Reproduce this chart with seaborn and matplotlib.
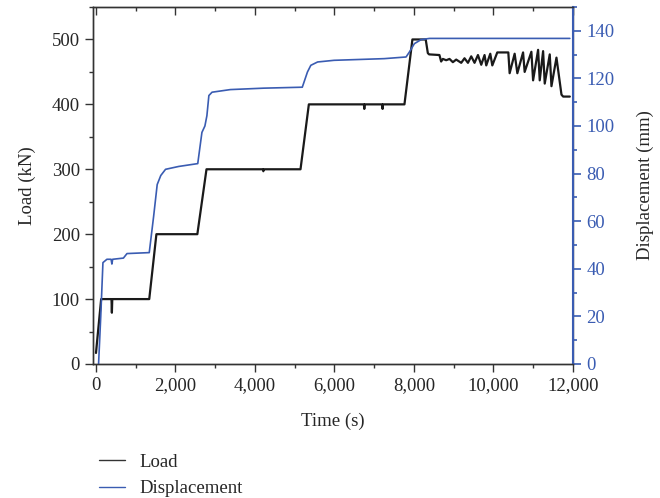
import matplotlib
matplotlib.use("Agg")
import matplotlib.pyplot as plt
import matplotlib.ticker as mticker
from matplotlib.lines import Line2D
import seaborn as sns
import pandas as pd

# ---- data ----
load_time = [0, 130, 390, 400, 410, 1340, 1520, 2550, 2780, 4200, 4210, 4220, 5145, 5355,
             6740, 6750, 6760, 7200, 7210, 7220, 7760, 7960, 8295, 8348, 8380, 8640, 8683, 8726,
             8810, 8893, 8978, 9062, 9188, 9271, 9357, 9440, 9523, 9609, 9692, 9775, 9818, 9919,
             9970, 10095, 10373, 10406, 10532, 10600, 10744, 10784, 10953, 10996, 11122, 11163,
             11248, 11289, 11415, 11458, 11584, 11710, 11752, 11920]
load_kn = [17, 100, 100, 79, 100, 100, 200, 200, 300, 300, 297, 300, 300, 400,
           400, 393, 400, 400, 393, 400, 400, 500, 500, 479, 477, 476, 466, 470,
           468, 470, 465, 469, 464, 471, 464, 474, 464, 476, 461, 476, 460, 478,
           460, 480, 480, 448, 478, 448, 480, 450, 481, 437, 484, 437,
           482, 432, 477, 428, 472, 415, 412, 412]

disp_time = [65, 120, 175, 275, 380, 400, 420, 690, 780, 1340, 1450, 1540, 1630, 1750, 2080,
             2560, 2665, 2740, 2790, 2840, 2920, 3380, 4220, 5190, 5320, 5405, 5575, 5990,
             7250, 7800, 7885, 8010, 8180, 8390, 11920]
disp_mm = [0, 20, 42.6, 44, 44, 42, 44, 44.5, 46.4, 46.8, 62, 75.4, 79.2, 81.8, 83,
           84.2, 97.3, 100, 104.3, 112.8, 114.2, 115.3, 115.9, 116.3, 122.7, 125.5, 126.9, 127.6,
           128.3, 129, 131.1, 134.6, 136.3, 136.8, 136.8]

x_ticks = [0, 2000, 4000, 6000, 8000, 10000, 12000]
load_ticks = [0, 100, 200, 300, 400, 500]
disp_ticks = [0, 20, 40, 60, 80, 100, 120, 140]

BLUE = "#3a5cb2"
BLACK = "#1a1a1a"

sns.set_style("ticks")
plt.rcParams["font.family"] = ["Liberation Serif", "DejaVu Serif"]
plt.rcParams["font.size"] = 13.5

fig = plt.figure(figsize=(6.6, 4.98), dpi=100)
ax = fig.add_axes([93 / 660, 1 - 364 / 498, (573 - 93) / 660, (364 - 7) / 498])
ax2 = ax.twinx()

df_load = pd.DataFrame({"t": load_time, "v": load_kn})
df_disp = pd.DataFrame({"t": disp_time, "v": disp_mm})

sns.lineplot(data=df_load, x="t", y="v", ax=ax, color=BLACK, lw=1.6, sort=False, estimator=None)
sns.lineplot(data=df_disp, x="t", y="v", ax=ax2, color=BLUE, lw=1.2, sort=False, estimator=None)

ax.set_xlim(-75, 12000)
ax.set_ylim(0, 550)
ax2.set_ylim(0, 150)

ax.set_xticks(x_ticks)
ax.xaxis.set_major_formatter(mticker.FuncFormatter(lambda v, p: f"{int(v):,}"))
ax.xaxis.set_minor_locator(mticker.MultipleLocator(1000))
ax.set_yticks(load_ticks)
ax.yaxis.set_minor_locator(mticker.MultipleLocator(50))
ax2.set_yticks(disp_ticks)
ax2.yaxis.set_minor_locator(mticker.MultipleLocator(10))

for a in (ax, ax2):
    for s in a.spines.values():
        s.set_linewidth(1.0)
        s.set_color("#333333")
ax2.spines["right"].set_color(BLUE)
ax2.spines["right"].set_linewidth(1.5)

ax.tick_params(axis="both", which="major", length=6, width=1, color="#333333", labelsize=13.5)
ax.tick_params(axis="both", which="minor", length=3, width=1, color="#333333")
ax2.tick_params(axis="y", which="major", length=6, width=1.2, color=BLUE, labelcolor=BLUE, labelsize=13.5)
ax2.tick_params(axis="y", which="minor", length=3, width=1.2, color=BLUE)

sec = ax.secondary_xaxis("top")
sec.set_xticks(x_ticks)
sec.xaxis.set_minor_locator(mticker.MultipleLocator(1000))
sec.tick_params(which="major", direction="in", length=6, width=1, color="#333333", labeltop=False)
sec.tick_params(which="minor", direction="in", length=3, width=1, color="#333333")
sec.spines["top"].set_visible(False)

ax.set_xlabel("Time (s)", fontsize=13.5, labelpad=13)
ax.set_ylabel("Load (kN)", fontsize=13.5, labelpad=11)
ax2.set_ylabel("Displacement (mm)", fontsize=13.5, labelpad=16)

handles = [Line2D([], [], color="#333333", lw=1.0), Line2D([], [], color=BLUE, lw=1.0)]
fig.legend(handles, ["Load", "Displacement"], loc="upper left",
           bbox_to_anchor=(91 / 660, 1 - 446 / 498), frameon=False, handlelength=1.4,
           handletextpad=0.8, labelspacing=0.5, fontsize=13.5, borderaxespad=0)

fig.savefig("out.png", dpi=100)
